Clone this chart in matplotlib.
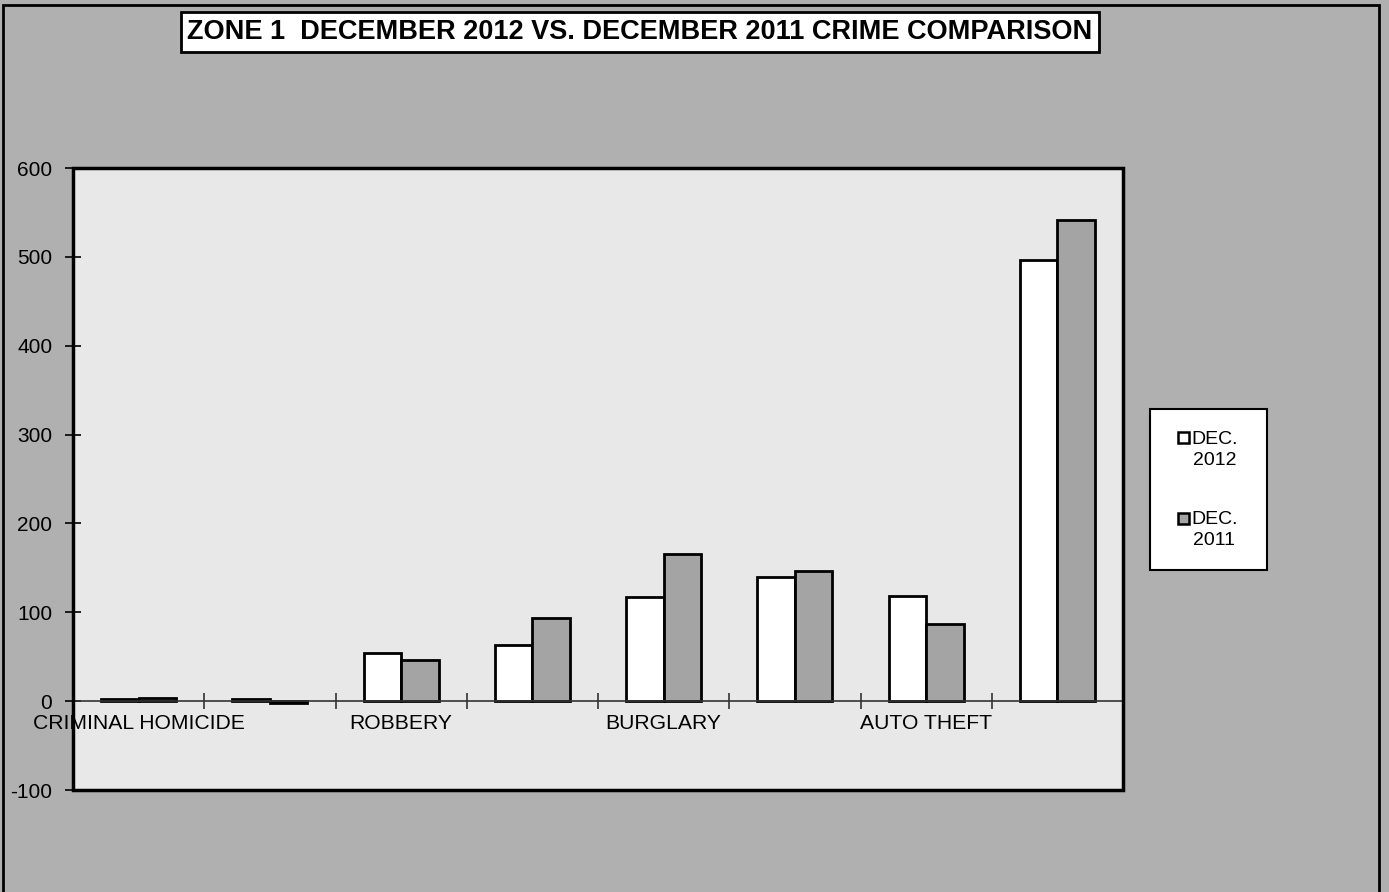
import matplotlib
matplotlib.use("Agg")
import matplotlib.pyplot as plt
from matplotlib.patches import Rectangle
import numpy as np

plt.rcParams['font.family'] = ['Liberation Sans', 'DejaVu Sans']

categories = ["CRIMINAL HOMICIDE", "RAPE", "ROBBERY", "AGG. ASSAULT",
              "BURGLARY", "LARCENY", "AUTO THEFT", "TOTAL"]
dec_2012 = [2, 2, 54, 63, 117, 140, 118, 496]
dec_2011 = [4, -2, 46, 94, 166, 147, 87, 542]
series_labels = ["DEC.\n2012", "DEC.\n2011"]
series_colors = ['white', '#a4a4a4']
yticks = [-100, 0, 100, 200, 300, 400, 500, 600]
title = "ZONE 1  DECEMBER 2012 VS. DECEMBER 2011 CRIME COMPARISON"

W, H = 1389, 892
fig = plt.figure(figsize=(W/100, H/100), dpi=100)
fig.patch.set_facecolor('#b0b0b0')

ax = fig.add_axes([73/W, 1-790/H, (1123-73)/W, (790-168)/H])
ax.set_facecolor('#e8e8e8')

x = np.arange(len(categories))
bw = 0.285
ax.bar(x - bw/2, dec_2012, bw, color=series_colors[0], edgecolor='black', linewidth=2, zorder=3)
ax.bar(x + bw/2, dec_2011, bw, color=series_colors[1], edgecolor='black', linewidth=2, zorder=3)

ax.set_xlim(-0.5, len(categories) - 0.5)
ax.set_ylim(-100, 600)

# frame
for s in ['left', 'top', 'right']:
    ax.spines[s].set_linewidth(2)
    ax.spines[s].set_color('black')
ax.spines['bottom'].set_position(('data', 0))
ax.spines['bottom'].set_linewidth(1.2)
ax.spines['bottom'].set_color('#333333')
ax.spines['bottom'].set_zorder(4)
ax.add_patch(Rectangle((0, 0), 1, 1, transform=ax.transAxes, fill=False,
                       edgecolor='black', linewidth=2.5, clip_on=False, zorder=5))

# x ticks
ax.set_xticks(x[::2])
ax.set_xticklabels([categories[i] for i in range(0, len(categories), 2)], fontsize=15.2)
ax.set_xticks(np.arange(0.5, len(categories) - 0.5, 1), minor=True)
ax.tick_params(axis='x', which='major', length=0, pad=9)
ax.tick_params(axis='x', which='minor', direction='inout', length=12, width=1.2, color='#333333')

# y ticks
ax.set_yticks(yticks)
ax.set_yticklabels([str(v) for v in yticks], fontsize=15)
ax.tick_params(axis='y', direction='inout', length=12, width=1.2, pad=9)

# title box
fig.text(640/W, 1-32/H, title, ha='center', va='center', fontsize=19.5, fontweight='bold',
         bbox=dict(boxstyle='square,pad=0.25', facecolor='white', edgecolor='black', linewidth=2))

# legend (drawn as a boxed key)
fig.patches.append(Rectangle((1150/W, 1-570/H), 117/W, 161/H, transform=fig.transFigure,
                             facecolor='white', edgecolor='black', linewidth=1.5, figure=fig, zorder=5))
for i, (lab, col) in enumerate(zip(series_labels, series_colors)):
    yc = 438 + 80*i
    fig.patches.append(Rectangle((1178/W, 1-(yc+5.5)/H), 11/W, 11/H, transform=fig.transFigure,
                                 facecolor=col, edgecolor='black', linewidth=1.8, figure=fig, zorder=6))
    fig.text(1191/W, 1-(yc-7)/H, lab, ha='left', va='top', fontsize=14,
             multialignment='center', linespacing=1.3, zorder=7)

# outer border
fig.patches.append(Rectangle((3/W, -0.1), (1379-3)/W, 1.1 - 5/H, transform=fig.transFigure,
                             fill=False, edgecolor='black', linewidth=2, figure=fig))

fig.savefig('out.png', dpi=100, facecolor=fig.get_facecolor())
